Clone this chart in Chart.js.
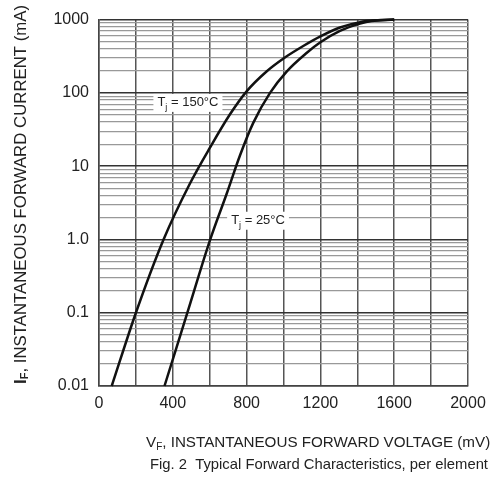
<!DOCTYPE html>
<html>
<head>
<meta charset="utf-8">
<script src="https://cdn.jsdelivr.net/npm/chart.js@4"></script>
<style>
  body { margin: 0; background: #fff; }
</style>
</head>
<body>
<canvas id="myChart" width="496" height="486"></canvas>
<script>
// 數據 (mV, mA)
var vf150 = [69, 200, 350, 493, 602, 710, 800, 908, 1000, 1107, 1200, 1306, 1415, 1500, 1600];
var if150 = [0.01, 0.1, 1, 5.8, 18, 51, 105, 196, 295, 436, 590, 780, 923, 977, 1000];
var vf25 = [355, 479, 603, 692, 764, 836, 927, 1017, 1125, 1200, 1306, 1415, 1478, 1600];
var if25 = [0.01, 0.1, 1, 4.2, 14, 39, 100, 195, 350, 490, 700, 880, 955, 1000];

var yDecades = [0.01, 0.1, 1, 10, 100, 1000];
var yLabels = ["0.01", "0.1", "1.0", "10", "100", "1000"];
var xTicks = [0, 400, 800, 1200, 1600, 2000];

function pts(xs, ys) {
  return xs.map(function (x, i) { return { x: x, y: ys[i] }; });
}

function isDecade(v) {
  return yDecades.some(function (d) { return Math.abs(d - v) / d < 1e-6; });
}

// 圖上標籤與座標軸標題
var labelPlugin = {
  id: "labels",
  afterDatasetsDraw: function (chart) {
    var c = chart.ctx;
    var xs = chart.scales.x, ys = chart.scales.y;
    function tag(vx, vy, temp) {
      var px = xs.getPixelForValue(vx), py = ys.getPixelForValue(vy);
      c.save();
      c.font = "13px 'Liberation Sans'";
      var w1 = c.measureText("T").width;
      c.font = "9px 'Liberation Sans'";
      var w2 = c.measureText("j").width;
      c.font = "13px 'Liberation Sans'";
      var rest = " = " + temp + "°C";
      var w3 = c.measureText(rest).width;
      var w = w1 + w2 + w3;
      c.fillStyle = "#fff";
      c.fillRect(px - w / 2 - 4, py - 9, w + 8, 18);
      c.fillStyle = "#222";
      c.textBaseline = "middle";
      var x0 = px - w / 2;
      c.fillText("T", x0, py);
      c.font = "9px 'Liberation Sans'";
      c.fillText("j", x0 + w1, py + 5);
      c.font = "13px 'Liberation Sans'";
      c.fillText(rest, x0 + w1 + w2, py);
      c.restore();
    }
    tag(482, 73, "150");
    tag(862, 1.8, "25");
  },
  afterDraw: function (chart) {
    var c = chart.ctx;
    c.save();
    c.fillStyle = "#222";
    c.textBaseline = "middle";
    // y 軸標題
    c.translate(21, 384);
    c.rotate(-Math.PI / 2);
    c.font = "bold 17px 'Liberation Sans'";
    c.fillText("I", 0, 0);
    var a = c.measureText("I").width;
    c.font = "bold 11px 'Liberation Sans'";
    c.fillText("F", a, 4);
    a += c.measureText("F").width;
    c.font = "16.8px 'Liberation Sans'";
    c.fillText(", INSTANTANEOUS FORWARD CURRENT (mA)", a, 0);
    c.restore();

    c.save();
    c.fillStyle = "#222";
    c.textBaseline = "middle";
    c.font = "15.2px 'Liberation Sans'";
    c.fillText("V", 146, 443);
    var b = 146 + c.measureText("V").width;
    c.font = "10px 'Liberation Sans'";
    c.fillText("F", b, 447);
    b += c.measureText("F").width;
    c.font = "15.2px 'Liberation Sans'";
    c.fillText(", INSTANTANEOUS FORWARD VOLTAGE (mV)", b, 443);
    c.font = "14.8px 'Liberation Sans'";
    c.fillText("Fig. 2  Typical Forward Characteristics, per element", 150, 465);
    c.restore();
  }
};

var ctx = document.getElementById("myChart");
var chart = new Chart(ctx, {
  type: "line",
  data: {
    datasets: [
      {
        label: "Tj = 150°C",
        data: pts(vf150, if150),
        borderColor: "#111",
        borderWidth: 2.5,
        pointRadius: 0,
        cubicInterpolationMode: "monotone",
        clip: false,
      },
      {
        label: "Tj = 25°C",
        data: pts(vf25, if25),
        borderColor: "#111",
        borderWidth: 2.5,
        pointRadius: 0,
        cubicInterpolationMode: "monotone",
        clip: false,
      },
    ],
  },
  options: {
    responsive: false,
    animation: false,
    layout: { padding: { left: 0, top: 16, right: 28, bottom: 0 } },
    plugins: { legend: { display: false }, tooltip: { enabled: false } },
    scales: {
      x: {
        type: "linear",
        min: 0,
        max: 2000,
        afterFit: function (s) { s.height = 100; },
        ticks: {
          stepSize: 200,
          autoSkip: false,
          maxRotation: 0,
          padding: 8,
          color: "#222",
          font: { family: "'Liberation Sans'", size: 16 },
          callback: function (v) { return xTicks.indexOf(v) >= 0 ? String(v) : ""; },
        },
        grid: { color: "#555", lineWidth: 1.5, drawTicks: false },
        border: { color: "#444", width: 1.5 },
      },
      y: {
        type: "logarithmic",
        min: 0.01,
        max: 1000,
        afterFit: function (s) { s.width = 99; },
        afterBuildTicks: function (s) {
          var t = [];
          yDecades.forEach(function (d, i) {
            if (i === yDecades.length - 1) { t.push({ value: d }); return; }
            for (var k = 1; k < 10; k++) t.push({ value: +(d * k).toPrecision(3) });
          });
          s.ticks = t;
        },
        ticks: {
          autoSkip: false,
          padding: 10,
          color: "#222",
          font: { family: "'Liberation Sans'", size: 16 },
          callback: function (v) {
            var i = yDecades.findIndex(function (d) { return Math.abs(d - v) / d < 1e-6; });
            return i >= 0 ? yLabels[i] : "";
          },
        },
        grid: {
          drawTicks: false,
          color: function (c) { return isDecade(c.tick ? c.tick.value : 0) ? "#333" : "#999"; },
          lineWidth: function (c) { return isDecade(c.tick ? c.tick.value : 0) ? 1.5 : 1.2; },
        },
        border: { color: "#444", width: 1.5 },
      },
    },
  },
  plugins: [labelPlugin],
});
</script>
</body>
</html>
